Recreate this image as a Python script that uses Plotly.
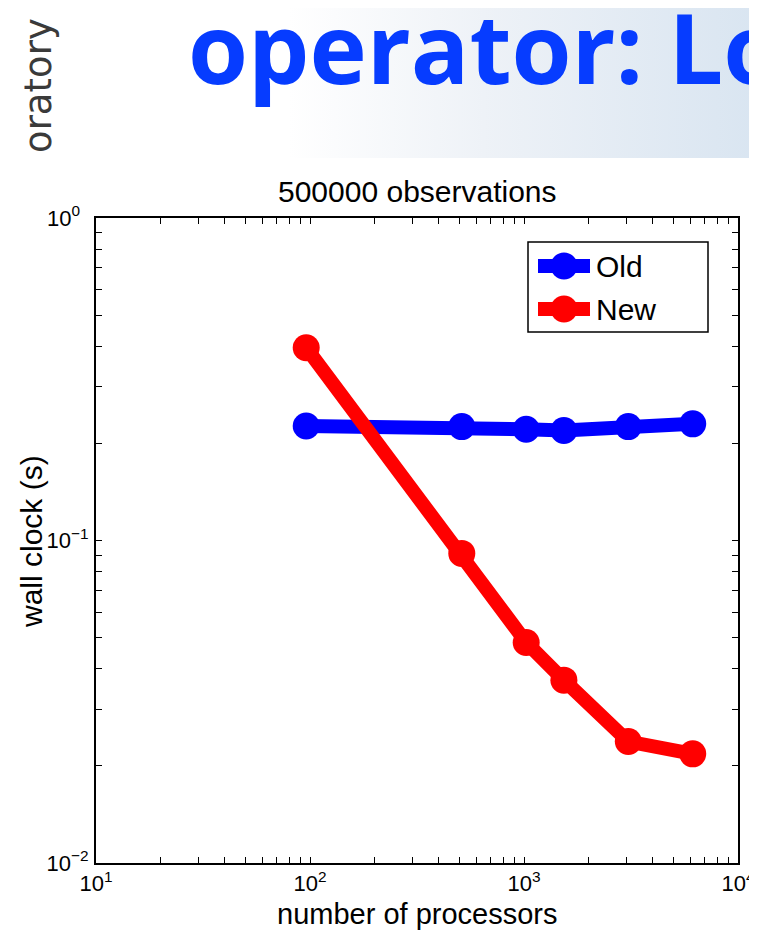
import base64
import plotly.graph_objects as go

# ---- data ----
processors = [96, 512, 1024, 1536, 3072, 6144]
old_time = [0.2265, 0.2255, 0.2214, 0.2193, 0.2255, 0.2300]
new_time = [0.396, 0.0912, 0.0483, 0.0369, 0.0238, 0.0218]
series_names = ["Old", "New"]
x_tick_vals = [10, 100, 1000, 10000]
x_tick_text = ["10<sup>1</sup>", "10<sup>2</sup>", "10<sup>3</sup>", "10<sup>4</sup>"]
y_tick_vals = [0.01, 0.1, 1]
y_tick_text = ["10<sup>−2</sup>", "10<sup>−1</sup>", "10<sup>0\u2007</sup>"]
title_text = "500000 observations"
x_title = "number of processors"
y_title = "wall clock (s)"
header_text = "operator: Lo"
side_text = "oratory"

# page body has an 8px default margin: lay the figure out shifted by it
OFF = 8
W, H = 757, 931
# plot area in page pixels: x 96..738, y 218..863
L, T = 96 - OFF, 218 - OFF
R, B = W - (738 - OFF), H - (863 - OFF)
PW, PH = 738 - 96, 863 - 218

def px(xp):
    return (xp - 96) / PW

def py(yp):
    return (863 - yp) / PH

def with_minor(majors):
    vals = []
    for i, m in enumerate(majors):
        vals.append(m)
        if i < len(majors) - 1:
            for k in range(2, 10):
                vals.append(m * k)
    return vals

def labels_for(vals, majors, texts):
    return [texts[majors.index(v)] if v in majors else "" for v in vals]

xv = with_minor(x_tick_vals)
yv = with_minor(y_tick_vals)

colors = {"Old": "#0000ff", "New": "#ff0000"}
LW, MS = 14, 27
FONT = "Liberation Sans, Arial, sans-serif"
BIG = 30

fig = go.Figure()
fig.add_trace(go.Scatter(x=processors, y=old_time, name="Old", mode="lines+markers",
                         line=dict(color=colors["Old"], width=LW),
                         marker=dict(color=colors["Old"], size=MS), showlegend=False))
fig.add_trace(go.Scatter(x=processors, y=new_time, name="New", mode="lines+markers",
                         line=dict(color=colors["New"], width=LW),
                         marker=dict(color=colors["New"], size=MS), showlegend=False))

axis_common = dict(type="log", showgrid=False, zeroline=False, showline=True,
                   linecolor="black", linewidth=2, mirror="ticks", ticks="inside",
                   ticklen=6, tickwidth=1, tickcolor="black",
                   tickfont=dict(family=FONT, size=22, color="black"))

fig.update_xaxes(range=[1, 4], tickvals=xv, ticktext=labels_for(xv, x_tick_vals, x_tick_text),
                 ticklabelstandoff=0, **axis_common)
fig.update_yaxes(range=[-2, 0], tickvals=yv, ticktext=labels_for(yv, y_tick_vals, y_tick_text),
                 ticklabelstandoff=1, **axis_common)

# header gradient via svg data uri
svg = ('<svg xmlns="http://www.w3.org/2000/svg" width="780" height="158">'
       '<defs><linearGradient id="g" x1="0" y1="0" x2="1" y2="0">'
       '<stop offset="0" stop-color="#ffffff"/><stop offset="0.37" stop-color="#ffffff"/>'
       '<stop offset="0.62" stop-color="#eef2f7"/><stop offset="0.97" stop-color="#d9e5f1"/>'
       '<stop offset="1" stop-color="#d9e5f1"/>'
       '</linearGradient></defs><rect width="780" height="158" fill="url(#g)"/></svg>')
src = "data:image/svg+xml;base64," + base64.b64encode(svg.encode()).decode()
fig.add_layout_image(dict(source=src, xref="paper", yref="paper", x=px(0), y=py(0),
                          sizex=780 / PW, sizey=158 / PH, sizing="stretch",
                          xanchor="left", yanchor="top", layer="below"))

annotations = [
    dict(text=header_text, x=px(186), y=py(114), xref="paper", yref="paper",
         xanchor="left", yanchor="bottom", showarrow=False,
         font=dict(family="Open Sans, sans-serif", size=97, color="#063cff", weight="bold")),
    dict(text=side_text, x=px(39), y=py(86), xref="paper", yref="paper",
         xanchor="center", yanchor="middle", showarrow=False, textangle=-90,
         font=dict(family="DejaVu Sans, sans-serif", size=37, color="#3a3a3a")),
    dict(text=title_text, x=0.5, y=py(191), xref="paper", yref="paper",
         xanchor="center", yanchor="middle", showarrow=False,
         font=dict(family=FONT, size=BIG, color="black")),
    dict(text=x_title, x=0.5, y=py(914), xref="paper", yref="paper",
         xanchor="center", yanchor="middle", showarrow=False,
         font=dict(family=FONT, size=29, color="black")),
    dict(text=y_title, x=px(31), y=py(542), xref="paper", yref="paper",
         xanchor="center", yanchor="middle", showarrow=False, textangle=-90,
         font=dict(family=FONT, size=BIG, color="black")),
]

# custom legend (decoration)
shapes = [dict(type="rect", xref="paper", yref="paper", x0=px(528), x1=px(708),
               y0=py(242), y1=py(332), line=dict(color="black", width=1.5),
               fillcolor="white", layer="above")]
for name, yy in zip(series_names, [266, 309]):
    shapes.append(dict(type="line", xref="paper", yref="paper", x0=px(538), x1=px(590),
                       y0=py(yy), y1=py(yy), line=dict(color=colors[name], width=LW), layer="above"))
    r = MS / 2
    shapes.append(dict(type="circle", xref="paper", yref="paper", x0=px(564 - r), x1=px(564 + r),
                       y0=py(yy - r), y1=py(yy + r), fillcolor=colors[name],
                       line=dict(color=colors[name], width=0), layer="above"))
    annotations.append(dict(text=name, x=px(594), y=py(yy), xref="paper", yref="paper",
                            xanchor="left", yanchor="middle", showarrow=False,
                            font=dict(family=FONT, size=BIG, color="black")))

fig.update_layout(width=W, height=H, margin=dict(l=L, r=R, t=T, b=B, autoexpand=False),
                  paper_bgcolor="white", plot_bgcolor="white",
                  annotations=annotations, shapes=shapes, showlegend=False)

fig.write_html("out.html")
